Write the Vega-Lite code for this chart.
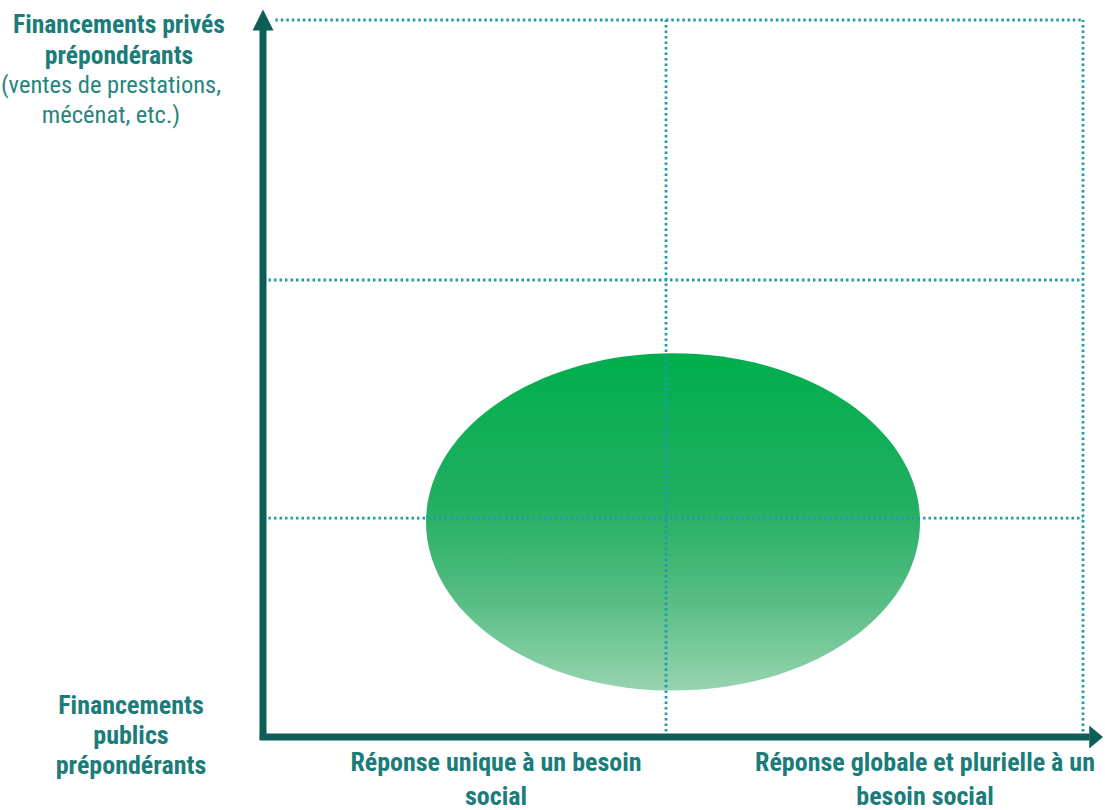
{
  "$schema": "https://vega.github.io/schema/vega-lite/v6.json",
  "width": 820,
  "height": 717,
  "autosize": {"type": "none"},
  "padding": {"left": 263, "top": 20, "right": 22, "bottom": 73},
  "background": "white",
  "config": {"view": {"stroke": null}},
  "datasets": {
    "ellipse": [{"x": 50, "y": 30}],
    "grid": [
      {"x": 49.15, "x2": 49.15, "y": 0, "y2": 100},
      {"x": 100, "x2": 100, "y": 0, "y2": 100},
      {"x": 0, "x2": 100, "y": 30.54, "y2": 30.54},
      {"x": 0, "x2": 100, "y": 63.74, "y2": 63.74},
      {"x": 1.5, "x2": 100, "y": 100, "y2": 100}
    ],
    "axes": [
      {"x": 0, "x2": 0, "y": -0.4, "y2": 98.6},
      {"x": -0.4, "x2": 100.8, "y": 0, "y2": 0}
    ],
    "arrowUp": [{"x": 0, "y": 100}],
    "arrowRight": [{"x": 101.6, "y": 0}],
    "topTitle": [{"x": -17.56, "y": 98.14, "label": "Financements privés\nprépondérants"}],
    "topNote": [{"x": -18.54, "y": 89.78, "label": "(ventes de prestations,\nmécénat, etc.)"}],
    "bottomTitle": [{"x": -16.1, "y": 3.17, "label": "Financements\npublics\nprépondérants"}],
    "xLabels": [
      {"x": 28.41, "y": -4.74, "label": "Réponse unique à un besoin\nsocial"},
      {"x": 80.73, "y": -4.74, "label": "Réponse globale et plurielle à un\nbesoin social"}
    ]
  },
  "encoding": {
    "x": {"field": "x", "type": "quantitative", "scale": {"domain": [0, 100], "nice": false, "zero": false}, "axis": null},
    "y": {"field": "y", "type": "quantitative", "scale": {"domain": [0, 100], "nice": false, "zero": false}, "axis": null}
  },
  "layer": [
    {
      "data": {"name": "ellipse"},
      "mark": {
        "type": "point",
        "filled": true,
        "opacity": 1,
        "strokeWidth": 0,
        "size": 244036,
        "shape": "M -1 0 C -1 -0.3772 -0.5523 -0.683 0 -0.683 C 0.5523 -0.683 1 -0.3772 1 0 C 1 0.3772 0.5523 0.683 0 0.683 C -0.5523 0.683 -1 0.3772 -1 0 Z",
        "fill": {
          "gradient": "linear",
          "x1": 0, "y1": 0, "x2": 0, "y2": 1,
          "stops": [
            {"offset": 0, "color": "#00AE4D"},
            {"offset": 0.45, "color": "#22AF61"},
            {"offset": 0.75, "color": "#5BBE86"},
            {"offset": 1, "color": "#97D4B1"}
          ]
        }
      }
    },
    {
      "data": {"name": "grid"},
      "mark": {"type": "rule", "color": "#1E9EA4", "strokeWidth": 2.8, "strokeDash": [2.5, 3]},
      "encoding": {
        "x2": {"field": "x2"},
        "y2": {"field": "y2"}
      }
    },
    {
      "data": {"name": "axes"},
      "mark": {"type": "rule", "color": "#0C5F57", "strokeWidth": 7},
      "encoding": {
        "x2": {"field": "x2"},
        "y2": {"field": "y2"}
      }
    },
    {
      "data": {"name": "arrowUp"},
      "mark": {"type": "point", "filled": true, "opacity": 1, "strokeWidth": 0, "color": "#0C5F57", "size": 441, "shape": "M -1 1 L 0 -1 L 1 1 Z"}
    },
    {
      "data": {"name": "arrowRight"},
      "mark": {"type": "point", "filled": true, "opacity": 1, "strokeWidth": 0, "color": "#0C5F57", "size": 529, "shape": "M -0.6 -1 L 0.6 0 L -0.6 1 Z"}
    },
    {
      "data": {"name": "topTitle"},
      "mark": {"type": "text", "font": "Roboto Condensed, sans-serif", "fontSize": 25.6, "fontWeight": "bold", "color": "#1B7C79", "align": "center", "baseline": "alphabetic", "lineBreak": "\n", "lineHeight": 31},
      "encoding": {"text": {"field": "label"}}
    },
    {
      "data": {"name": "topNote"},
      "mark": {"type": "text", "font": "Roboto Condensed, sans-serif", "fontSize": 24.5, "fontWeight": "normal", "color": "#27857F", "align": "center", "baseline": "alphabetic", "lineBreak": "\n", "lineHeight": 29.5},
      "encoding": {"text": {"field": "label"}}
    },
    {
      "data": {"name": "bottomTitle"},
      "mark": {"type": "text", "font": "Roboto Condensed, sans-serif", "fontSize": 26, "fontWeight": "bold", "color": "#1B7C79", "align": "center", "baseline": "alphabetic", "lineBreak": "\n", "lineHeight": 30},
      "encoding": {"text": {"field": "label"}}
    },
    {
      "data": {"name": "xLabels"},
      "mark": {"type": "text", "font": "Roboto Condensed, sans-serif", "fontSize": 26, "fontWeight": "bold", "color": "#1B7C79", "align": "center", "baseline": "alphabetic", "lineBreak": "\n", "lineHeight": 34},
      "encoding": {"text": {"field": "label"}}
    }
  ]
}
